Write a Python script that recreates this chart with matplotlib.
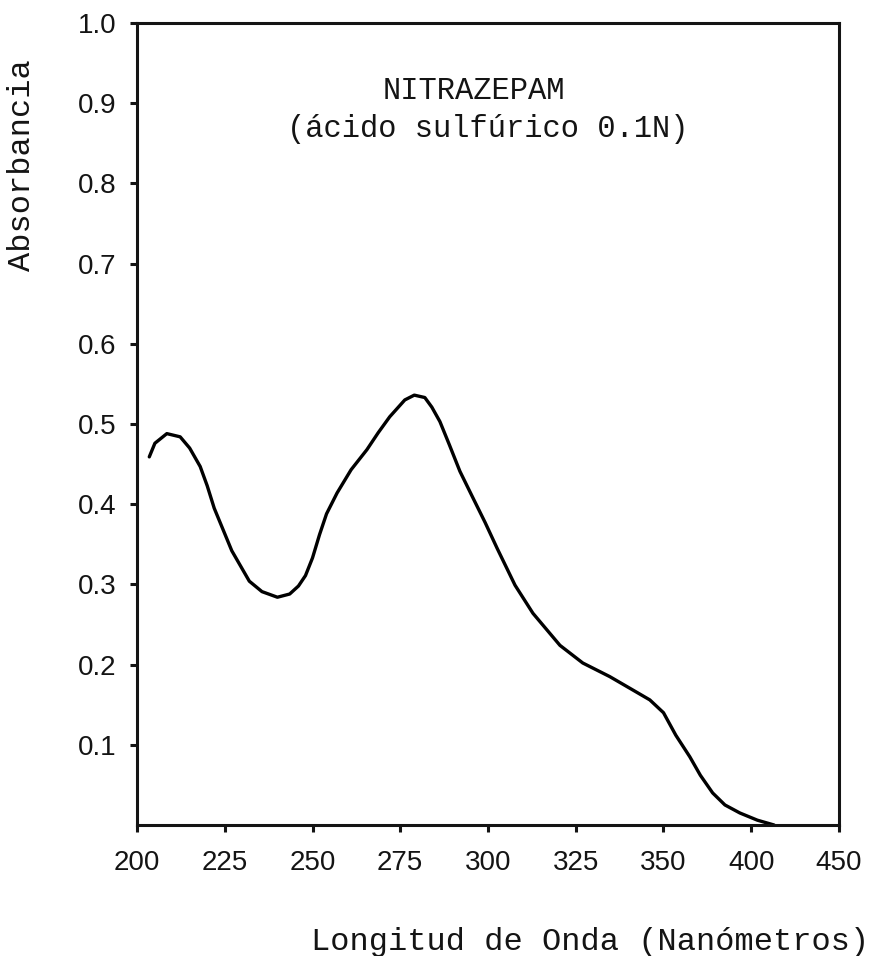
import matplotlib.pyplot as plt
import numpy as np

# absorption spectrum
wavelength = [203.5, 205.1, 208.5, 212.3, 215.0, 218.0, 220.0, 222.0, 227.0, 232.0,
              235.6, 240.0, 243.5, 246.0, 248.0, 250.0, 252.0, 254.0, 257.0, 261.0,
              265.5, 268.7, 272.0, 276.3, 279.0, 282.0, 284.0, 286.3, 289.0, 292.0,
              295.7, 299.2, 302.6, 307.7, 312.8, 320.5, 327.0, 334.7, 341.0, 346.1,
              350.0, 357.0, 365.0, 371.0, 378.0, 385.0, 393.5, 403.5, 413.0]
absorbance = [0.459, 0.476, 0.488, 0.484, 0.470, 0.447, 0.423, 0.395, 0.342, 0.304,
              0.291, 0.284, 0.288, 0.298, 0.311, 0.333, 0.362, 0.388, 0.414, 0.443,
              0.468, 0.489, 0.509, 0.530, 0.536, 0.533, 0.521, 0.503, 0.474, 0.441,
              0.408, 0.377, 0.345, 0.299, 0.264, 0.224, 0.202, 0.185, 0.169, 0.156,
              0.140, 0.112, 0.085, 0.062, 0.040, 0.025, 0.015, 0.006, 0.0]

# tick values on the (uneven) wavelength axis
x_ticks = [200, 225, 250, 275, 300, 325, 350, 400, 450]
y_ticks = [0.1, 0.2, 0.3, 0.4, 0.5, 0.6, 0.7, 0.8, 0.9, 1.0]
y_labels = ['0.1', '0.2', '0.3', '0.4', '0.5', '0.6', '0.7', '0.8', '0.9', '1.0']

title_1 = 'NITRAZEPAM'
title_2 = '(ácido sulfúrico 0.1N)'
x_title = 'Longitud de Onda (Nanómetros)'
y_title = 'Absorbancia'

# ticks are equally spaced on paper even though values are not
tick_pos = np.arange(len(x_ticks))


def forward(x):
    return np.interp(x, x_ticks, tick_pos)


def inverse(p):
    return np.interp(p, tick_pos, x_ticks)


mono = 'Liberation Mono'
ink = '#141414'

fig = plt.figure(figsize=(8.78, 9.56), dpi=100)
ax = fig.add_axes([137 / 878, 131 / 956, 702 / 878, 802 / 956])

ax.set_xscale('function', functions=(forward, inverse))
ax.plot(wavelength, absorbance, color='black', linewidth=2.4,
        solid_joinstyle='round', solid_capstyle='round')

ax.set_xlim(200, 450)
ax.set_ylim(0, 1.0)

ax.set_xticks(x_ticks)
ax.set_xticklabels([str(v) for v in x_ticks])
ax.set_yticks(y_ticks)
ax.set_yticklabels(y_labels)

for spine in ax.spines.values():
    spine.set_linewidth(2.2)
    spine.set_color(ink)

ax.tick_params(axis='both', direction='out', length=5, width=2.2, color=ink,
               labelcolor=ink)
ax.tick_params(axis='x', pad=13)
ax.tick_params(axis='y', pad=10)
for lab in ax.get_xticklabels() + ax.get_yticklabels():
    lab.set_fontfamily('Liberation Sans')
    lab.set_fontsize(20)

ax.text(0.48, 0.915, title_1, transform=ax.transAxes, ha='center', va='center',
        family=mono, fontsize=22, color=ink)
ax.text(0.50, 0.868, title_2, transform=ax.transAxes, ha='center', va='center',
        family=mono, fontsize=22, color=ink)

fig.text(590 / 878, 1 - 942 / 956, x_title, ha='center', va='center',
         family=mono, fontsize=23, color=ink)
fig.text(22 / 878, 1 - 165 / 956, y_title, ha='center', va='center',
         rotation=90, family=mono, fontsize=23, color=ink)

fig.savefig('out.png', dpi=100)
